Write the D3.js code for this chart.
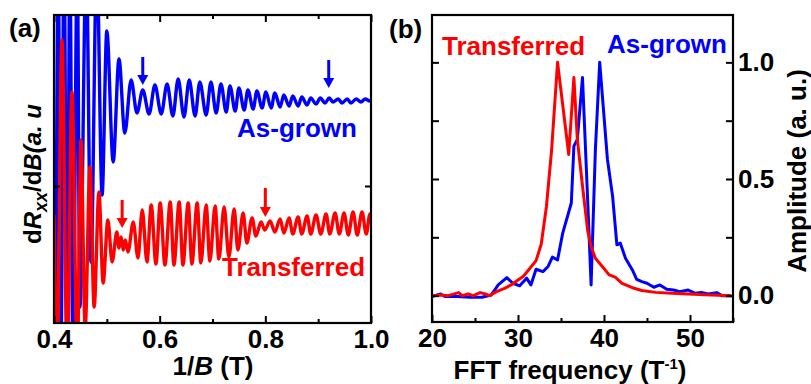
<!DOCTYPE html>
<html><head><meta charset="utf-8">
<script src="https://cdn.jsdelivr.net/npm/d3@7"></script>
<style>
body{margin:0;background:#fff}
svg{display:block}
text{font-family:"Liberation Sans",Arial,sans-serif;font-weight:bold}
</style>
</head><body>
<svg id="chart" width="811" height="384"></svg>
<script>
// ---------- Panel (a): dRxx/dB vs 1/B (extrema) ----------
const invBAsGrown = [0.400,0.402,0.408,0.413,0.419,0.425,0.430,0.436,0.444,0.449,0.461,0.470,0.481,0.491,0.500,0.512,0.523,0.534,0.546,0.557,
  0.568,0.580,0.591,0.603,0.614,0.625,0.635,0.646,0.656,0.667,0.676,0.688,0.697,0.707,0.716,0.726,0.733,0.743,0.750,0.760,
  0.767,0.777,0.784,0.794,0.801,0.811,0.818,0.828,0.835,0.845,0.852,0.862,0.869,0.879,0.886,0.896,0.904,0.913,0.921,0.928,
  0.938,0.945,0.955,0.962,0.972,0.981,0.989,0.998,1.000];
const dRAsGrown = [-1.4,-17.4,22.6,-17.4,22.6,-17.4,22.6,-17.4,22.6,-12.1,22.6,-7.6,22.6,-0.9,15.5,2.4,12.7,5.3,10.6,7.3,
  9.6,7.2,10.1,7.2,10.2,7.0,10.7,6.9,10.6,7.0,10.4,7.1,10.4,7.3,10.2,7.4,10.0,7.5,9.8,7.6,
  9.6,7.7,9.5,7.8,9.4,7.8,9.3,7.9,9.1,8.0,9.0,8.0,8.9,8.1,8.8,8.2,8.8,8.3,8.8,8.4,
  8.7,8.3,8.7,8.3,8.7,8.4,8.7,8.5,8.6];

const invBTransferred = [0.400,0.406,0.415,0.425,0.434,0.444,0.451,0.459,0.468,0.476,0.485,0.493,0.502,0.510,0.519,0.523,0.527,0.531,0.535,0.540,
  0.550,0.559,0.567,0.576,0.584,0.593,0.601,0.610,0.620,0.627,0.637,0.644,0.654,0.661,0.671,0.678,0.688,0.695,0.705,0.712,
  0.722,0.731,0.741,0.748,0.758,0.765,0.775,0.782,0.792,0.799,0.809,0.818,0.828,0.835,0.845,0.852,0.862,0.869,0.879,0.886,
  0.896,0.905,0.915,0.922,0.932,0.940,0.949,0.957,0.966,0.974,0.983,0.991,0.998,1.000];
const dRTransferred = [-2.9,-17.4,14.6,-17.4,9.4,-17.4,4.6,-14.2,1.9,-12.1,-0.6,-9.7,-3.4,-7.6,-4.6,-6.2,-5.1,-6.4,-5.4,-6.6,
  -3.6,-7.2,-2.4,-7.6,-1.9,-7.8,-1.7,-7.9,-1.6,-7.9,-1.6,-7.9,-1.7,-7.8,-1.7,-7.7,-1.9,-7.5,-2.0,-7.3,
  -2.1,-7.1,-2.3,-6.4,-2.7,-5.7,-3.2,-5.0,-3.6,-4.4,-3.5,-4.6,-3.3,-4.7,-3.2,-4.8,-3.1,-4.8,-3.0,-4.8,
  -2.9,-4.8,-2.8,-4.8,-2.7,-4.8,-2.7,-4.9,-2.6,-4.9,-2.6,-4.8,-2.8,-3.5];

// arrows marking beat nodes: [1/B, start, tip]
const arrowsAsGrown = [[0.568,12.9,10.1],[0.920,12.6,9.8]];
const arrowsTransferred = [[0.529,-1.4,-4.2],[0.800,-0.2,-3.1]];

const xTicksA = [0.4,0.5,0.6,0.7,0.8,0.9,1.0];
const xLabelsA = ["0.4","0.6","0.8","1.0"];
const yTicksA = [0];

// ---------- Panel (b): FFT amplitude ----------
const freqTransferred = [20,21,21.9,23.1,23.5,24.2,24.8,25.6,26.2,26.7,27.5,28.5,29.2,30,30.6,31.3,32.1,32.7,33.3,33.9,
  34.6,35.9,36.5,36.9,37.5,38.1,38.5,39.0,39.8,40.6,41.3,42.1,43.3,44.4,46,47.9,49.8,51.7,54.8];
const ampTransferred = [0,0.003,0,0.013,0,0.007,0,0.013,0.007,0,0.017,0.032,0.046,0.067,0.082,0.113,0.15,0.22,0.38,0.62,
  1.0,0.605,0.935,0.67,0.47,0.28,0.21,0.16,0.125,0.089,0.079,0.053,0.034,0.022,0.014,0.01,0.007,0.004,0];

const freqAsGrown = [20,21,21.5,22.9,24.4,25.8,26.9,27.7,28.7,29.4,30.2,31,31.5,32.1,32.9,33.5,34,34.6,35.2,36.2,
  36.5,36.9,37.5,38.1,38.5,39,39.5,40.4,41,41.5,41.9,42.5,43.3,43.8,44.4,45,45.8,46.5,47.3,48.1,
  48.8,49.8,50.6,51.3,52.1,53.1,53.7,54.8];
const ampAsGrown = [-0.004,0.007,-0.004,-0.004,-0.007,-0.007,0.003,0.046,0.077,0.053,0.042,0.075,0.046,0.113,0.103,0.125,0.165,0.153,0.268,0.397,
  0.641,0.67,0.935,0.41,0.046,0.627,1.0,0.584,0.426,0.218,0.225,0.16,0.11,0.07,0.06,0.053,0.036,0.046,0.027,0.024,
  0.017,0.024,0.01,0.014,0.007,0.013,0,0];

const xTicksB = [20,25,30,35,40,45,50,55];
const xLabelsB = ["20","30","40","50"];
const yTicksB = [0,0.25,0.5,0.75,1.0];
const yLabelsB = ["0.0","0.5","1.0"];

const BLUE = "#0000ff", RED = "#ff0000";
const FS = 26;
const svg = d3.select("#chart");

// ===== Panel (a) =====
const A = {l:54, r:371, t:15, b:323};
const xA = d3.scaleLinear().domain([0.4,1.0]).range([A.l,A.r]);
const yA = d3.scaleLinear().domain([-13.7,17.1]).range([A.b,A.t]);

svg.append("clipPath").attr("id","clipA").append("rect")
  .attr("x",A.l).attr("y",A.t).attr("width",A.r-A.l).attr("height",A.b-A.t);

const lineA = d3.line().x(d=>xA(d[0])).y(d=>yA(d[1])).curve(d3.curveMonotoneX);
const gA = svg.append("g").attr("clip-path","url(#clipA)");
gA.append("path").datum(d3.zip(invBAsGrown,dRAsGrown))
  .attr("d",lineA).attr("fill","none").attr("stroke",BLUE).attr("stroke-width",3.4).attr("stroke-linejoin","round");
gA.append("path").datum(d3.zip(invBTransferred,dRTransferred))
  .attr("d",lineA).attr("fill","none").attr("stroke",RED).attr("stroke-width",3.4).attr("stroke-linejoin","round");

function drawArrow(g, xs, ys, a, color){
  const px = xs(a[0]), p0 = ys(a[1]), p1 = ys(a[2]);
  g.append("line").attr("x1",px).attr("x2",px).attr("y1",p0).attr("y2",p1-8)
    .attr("stroke",color).attr("stroke-width",3);
  g.append("path").attr("d",`M${px-5.5},${p1-10}L${px+5.5},${p1-10}L${px},${p1}Z`).attr("fill",color);
}
arrowsAsGrown.forEach(a=>drawArrow(svg,xA,yA,a,BLUE));
arrowsTransferred.forEach(a=>drawArrow(svg,xA,yA,a,RED));

function styleAxis(g){
  g.attr("font-size",null).attr("font-family",null);
  g.select(".domain").remove();
  g.selectAll("line").attr("stroke","#000").attr("stroke-width",2);
  g.selectAll("text").attr("font-size",FS).attr("fill","#000");
}
function shortMinor(g, isMinor){
  g.selectAll(".tick").filter(isMinor).select("line")
    .each(function(){
      const l=d3.select(this);
      ["x2","y2"].forEach(k=>{const v=+l.attr(k); if(v) l.attr(k, v>0?4:-4);});
    });
}
const minorA = d => Math.abs(Math.round(d*10)%2-1)<1e-6;
const fmtA = d => { const s=d3.format(".1f")(d); return xLabelsA.includes(s)?s:""; };
svg.append("g").attr("transform",`translate(0,${A.b})`)
  .call(d3.axisBottom(xA).tickValues(xTicksA).tickSize(-7).tickPadding(7).tickFormat(fmtA))
  .call(styleAxis).call(g=>shortMinor(g,minorA));
svg.append("g").attr("transform",`translate(0,${A.t})`)
  .call(d3.axisTop(xA).tickValues(xTicksA).tickSize(-7).tickFormat(""))
  .call(styleAxis).call(g=>shortMinor(g,minorA));
svg.append("g").attr("transform",`translate(${A.l},0)`)
  .call(d3.axisLeft(yA).tickValues(yTicksA).tickSize(-6).tickFormat(""))
  .call(styleAxis);
svg.append("g").attr("transform",`translate(${A.r},0)`)
  .call(d3.axisRight(yA).tickValues(yTicksA).tickSize(-6).tickFormat(""))
  .call(styleAxis);

svg.append("rect").attr("x",A.l).attr("y",A.t).attr("width",A.r-A.l).attr("height",A.b-A.t)
  .attr("fill","none").attr("stroke","#000").attr("stroke-width",2.2);

// texts panel a
svg.append("text").attr("x",9).attr("y",37).attr("font-size",FS).text("(a)");
svg.append("text").attr("x",237).attr("y",137).attr("font-size",FS).attr("fill",BLUE).text("As-grown");
svg.append("text").attr("x",222).attr("y",276).attr("font-size",FS).attr("fill",RED).text("Transferred");
const xtA = svg.append("text").attr("x",213).attr("y",375).attr("font-size",FS).attr("text-anchor","middle");
xtA.append("tspan").text("1/");
xtA.append("tspan").attr("font-style","italic").text("B");
xtA.append("tspan").text(" (T)");
const ytA = svg.append("text").attr("transform","translate(41,174) rotate(-90)").attr("font-size",24).attr("text-anchor","middle");
ytA.append("tspan").text("d");
ytA.append("tspan").attr("font-style","italic").text("R");
ytA.append("tspan").attr("font-style","italic").attr("font-size",18).attr("dy",6).text("xx");
ytA.append("tspan").attr("dy",-6).text("/d");
ytA.append("tspan").attr("font-style","italic").text("B");
ytA.append("tspan").attr("font-style","italic").text("(a. u");

// ===== Panel (b) =====
const Bp = {l:432, r:733, t:15, b:322};
const xB = d3.scaleLinear().domain([20,55]).range([Bp.l,Bp.r]);
const yB = d3.scaleLinear().domain([-0.113,1.203]).range([Bp.b,Bp.t]);
svg.append("clipPath").attr("id","clipB").append("rect")
  .attr("x",Bp.l).attr("y",Bp.t).attr("width",Bp.r-Bp.l).attr("height",Bp.b-Bp.t);
const lineB = d3.line().x(d=>xB(d[0])).y(d=>yB(d[1]));
const gB = svg.append("g").attr("clip-path","url(#clipB)");
gB.append("path").datum(d3.zip(freqAsGrown,ampAsGrown)).attr("d",lineB)
  .attr("fill","none").attr("stroke",BLUE).attr("stroke-width",3).attr("stroke-linejoin","round");
gB.append("path").datum(d3.zip(freqTransferred,ampTransferred)).attr("d",lineB)
  .attr("fill","none").attr("stroke",RED).attr("stroke-width",3).attr("stroke-linejoin","round");

const fmtBx = d => xLabelsB.includes(String(d))?String(d):"";
const fmtBy = d => { const s=d3.format(".1f")(d); return (yLabelsB.includes(s)&&Math.abs(d*2-Math.round(d*2))<1e-6)?s:""; };
svg.append("g").attr("transform",`translate(0,${Bp.b})`)
  .call(d3.axisBottom(xB).tickValues(xTicksB).tickSize(-7).tickPadding(7).tickFormat(fmtBx))
  .call(styleAxis).call(g=>shortMinor(g,d=>d%10!==0));
svg.append("g").attr("transform",`translate(${Bp.l},0)`)
  .call(d3.axisLeft(yB).tickValues(yTicksB).tickSize(-7).tickFormat(""))
  .call(styleAxis);
svg.append("g").attr("transform",`translate(${Bp.r},0)`)
  .call(d3.axisRight(yB).tickValues(yTicksB).tickSize(-7).tickPadding(5).tickFormat(fmtBy))
  .call(styleAxis);
svg.append("rect").attr("x",Bp.l).attr("y",Bp.t).attr("width",Bp.r-Bp.l).attr("height",Bp.b-Bp.t)
  .attr("fill","none").attr("stroke","#000").attr("stroke-width",2.2);

svg.append("text").attr("x",389).attr("y",38).attr("font-size",FS).text("(b)");
svg.append("text").attr("x",442).attr("y",55).attr("font-size",FS).attr("fill",RED).text("Transferred");
svg.append("text").attr("x",607).attr("y",53).attr("font-size",FS).attr("fill",BLUE).text("As-grown");
const xtB = svg.append("text").attr("x",570).attr("y",379).attr("font-size",FS).attr("text-anchor","middle");
xtB.append("tspan").text("FFT frequency (T");
xtB.append("tspan").attr("font-size",15).attr("dy",-10).text("-1");
xtB.append("tspan").attr("dy",10).text(")");
svg.append("text").attr("transform","translate(806,171) rotate(-90)").attr("font-size",FS)
  .attr("text-anchor","middle").text("Amplitude (a. u.)");
</script>
</body></html>
